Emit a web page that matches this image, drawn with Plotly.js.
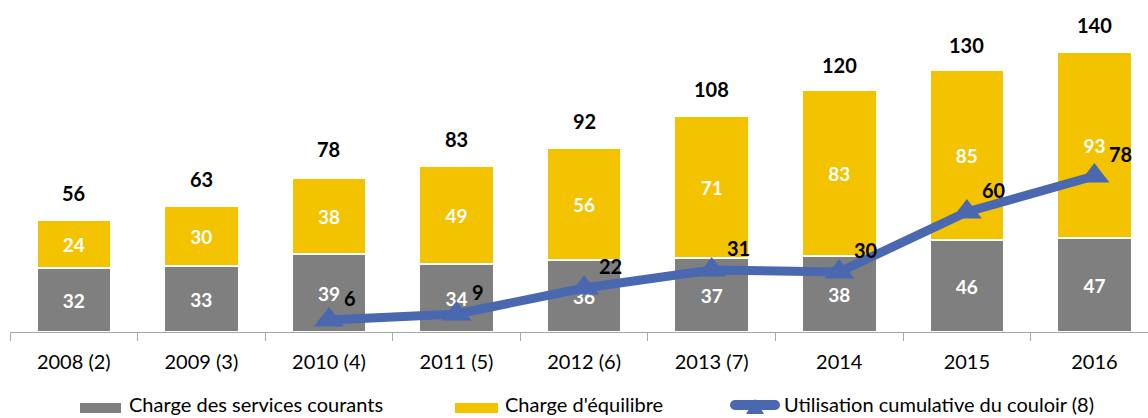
<!DOCTYPE html>
<html>
<head>
<meta charset="utf-8">
<script src="https://cdn.plot.ly/plotly-3.0.1.min.js"></script>
<style>html,body{margin:0;padding:0;background:#fff}#chart{width:1148px;height:418px}</style>
</head>
<body>
<div id="chart"></div>
<script>
const categories = ["2008 (2)","2009 (3)","2010 (4)","2011 (5)","2012 (6)","2013 (7)","2014","2015","2016"];
const chargeServices = [32,33,39,34,36,37,38,46,47];
const chargeEquilibre = [24,30,38,49,56,71,83,85,93];
const totals = [56,63,78,83,92,108,120,130,140];
const utilisation = [null,null,6,9,22,31,30,60,78];
const seriesNames = ["Charge des services courants", "Charge d'équilibre", "Utilisation cumulative du couloir (8)"];

const FONT = "Lato, 'Open Sans', sans-serif";
const GRAY = '#7f7f7f', YELLOW = '#f4c300', BLUE = '#4a68b0';

// plot area: x 10..1148 px, y 32..332 px
const W = 1148, H = 418, ML = 10, MR = 0, MT = 32, MB = 86;
const PW = W - ML - MR, PH = H - MT - MB;
const px = v => (v - ML) / PW;
const py = v => (H - MB - v) / PH;

const traces = [
  {type:'bar', name:seriesNames[0], x:categories, y:chargeServices, showlegend:false,
   marker:{color:GRAY, line:{color:'#ffffff', width:1.5}},
   text:chargeServices.map(String), textposition:'inside', insidetextanchor:'middle',
   textfont:{color:'#ffffff', size:19, family:FONT, weight:'bold'}, hoverinfo:'skip'},
  {type:'bar', name:seriesNames[1], x:categories, y:chargeEquilibre, showlegend:false,
   marker:{color:YELLOW, line:{color:'#ffffff', width:1.5}},
   text:chargeEquilibre.map(String), textposition:'inside', insidetextanchor:'middle',
   textfont:{color:'#ffffff', size:19, family:FONT, weight:'bold'}, hoverinfo:'skip'},
  {type:'scatter', mode:'lines+markers', name:seriesNames[2], showlegend:false,
   x:categories, y:utilisation,
   line:{color:BLUE, width:9},
   marker:{symbol:'triangle-up', size:26, color:BLUE},
   cliponaxis:false, hoverinfo:'skip'}
];

const annotations = [];
totals.forEach((t,i)=>annotations.push({
  x:i, y:t, xref:'x', yref:'y', text:'<b>'+t+'</b>', showarrow:false,
  yanchor:'middle', yshift:27, font:{size:20, color:'#000', family:FONT}
}));
utilisation.forEach((v,i)=>{ if(v!=null) annotations.push({
  x:i, y:v, xref:'x', yref:'y', text:'<b>'+v+'</b>', showarrow:false,
  xanchor:'left', yanchor:'middle', xshift:13, yshift:22, font:{size:20, color:'#000', family:FONT}
});});

// manual legend
const legendY = 404;
const legendTextX = [127, 503, 782];
seriesNames.forEach((n,i)=>annotations.push({
  x:px(legendTextX[i]), y:py(legendY), xref:'paper', yref:'paper', text:n, showarrow:false,
  xanchor:'left', yanchor:'middle', font:{size:20, color:'#000', family:FONT}
}));
const pix = (cx, cy, o) => Object.assign({xref:'paper', yref:'paper', xsizemode:'pixel', ysizemode:'pixel',
  xanchor:px(cx), yanchor:py(cy), fillcolor:BLUE, line:{width:0}}, o);
const shapes = [
  {type:'rect', xref:'paper', yref:'paper', x0:px(80), x1:px(121), y0:py(403), y1:py(413), fillcolor:GRAY, line:{width:0}},
  {type:'rect', xref:'paper', yref:'paper', x0:px(455), x1:px(498), y0:py(403), y1:py(413), fillcolor:YELLOW, line:{width:0}},
  pix(755, 405, {type:'rect', x0:-20, x1:20, y0:-5, y1:5}),
  pix(735, 405, {type:'circle', x0:-5, x1:5, y0:-5, y1:5}),
  pix(775, 405, {type:'circle', x0:-5, x1:5, y0:-5, y1:5}),
  pix(755, 405, {type:'path', path:'M -9,-9 L 9,-9 L 0,6 Z'})
];

const layout = {
  width:W, height:H,
  margin:{l:ML, r:MR, t:MT, b:MB, autoexpand:false},
  barmode:'stack', bargap:0.42,
  paper_bgcolor:'#fff', plot_bgcolor:'#fff',
  showlegend:false,
  xaxis:{type:'category', range:[-0.5, 8.42], showline:true, linecolor:'#a6a6a6', linewidth:1,
         ticks:'outside', tickson:'boundaries', ticklen:8, tickcolor:'#a6a6a6',
         ticklabelstandoff:12, automargin:false,
         tickfont:{size:20, family:FONT, color:'#000'}, showgrid:false, fixedrange:true},
  yaxis:{range:[0,150], visible:false, showgrid:false, zeroline:false, fixedrange:true},
  annotations:annotations,
  shapes:shapes,
  font:{family:FONT}
};
Plotly.newPlot('chart', traces, layout, {displayModeBar:false, staticPlot:true});
</script>
</body>
</html>
